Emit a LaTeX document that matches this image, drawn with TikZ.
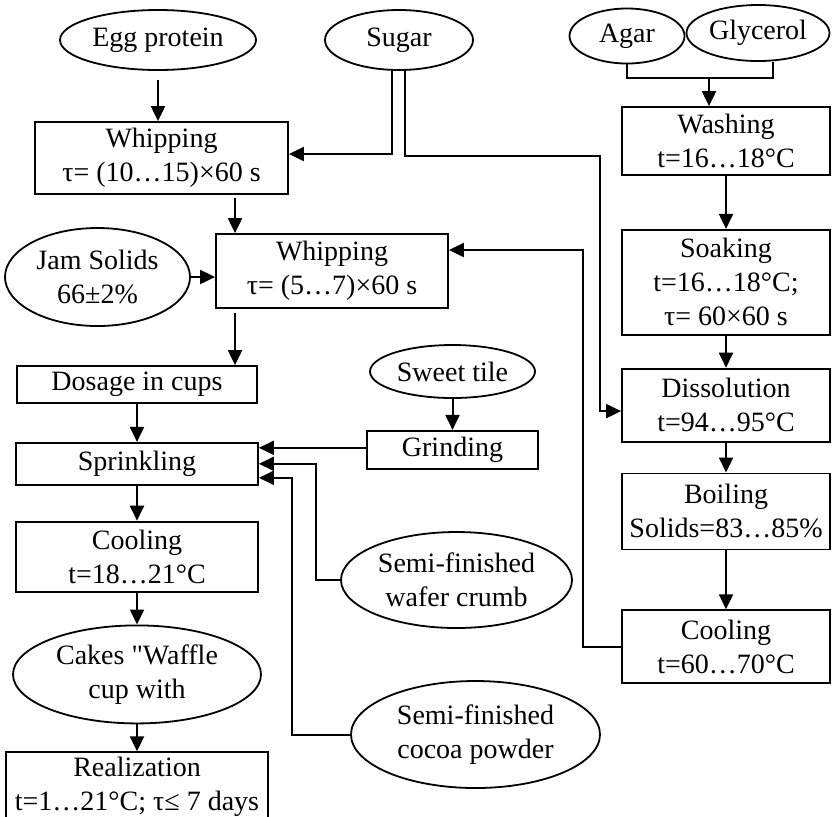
\documentclass[tikz,border=0pt]{standalone}
\usepackage{fontspec}
\setmainfont{Liberation Serif}[Ligatures=TeXOff]
\usetikzlibrary{positioning, arrows.meta, shapes.geometric}

\begin{document}
\begin{tikzpicture}[
    x=0.5pt, y=-0.5pt,
    font=\fontsize{14}{17}\selectfont,
    box/.style={draw, rectangle, line width=0.9pt, align=center, inner sep=2pt},
    oval/.style={draw, ellipse, line width=0.9pt, align=center, inner sep=0pt},
    arr/.style={-{Triangle[length=7.5pt,width=7pt]}, line width=1pt},
    link/.style={line width=1pt}
]
    \useasboundingbox (0,0) rectangle (833,816);

    \node[oval, minimum width=98pt, minimum height=30pt] (egg) at (158,40) {Egg protein};
    \node[oval, minimum width=74pt, minimum height=30pt] (sugar) at (399,40) {Sugar};
    \node[oval, minimum width=57.5pt, minimum height=27.5pt] (agar) at (627,36) {Agar};
    \node[oval, minimum width=71.5pt, minimum height=28pt] (glyc) at (758,33) {Glycerol};

    \node[box, minimum width=104pt, minimum height=34pt] (wash) at (726,141) {Washing\\ t=16…18°C};
    \node[box, minimum width=104pt, minimum height=52.5pt] (soak) [below=26.5pt of wash] {Soaking\\ t=16…18°C;\\ τ= 60×60 s};
    \node[box, minimum width=104pt, minimum height=36.5pt] (diss) [below=16pt of soak] {Dissolution\\ t=94…95°C};
    \node[box, minimum width=104pt, minimum height=38pt] (boil) [below=15pt of diss] {Boiling\\ Solids=83…85\%};
    \node[box, minimum width=104pt, minimum height=36.5pt] (cool2) [below=29.5pt of boil] {Cooling\\ t=60…70°C};

    \node[box, minimum width=126.5pt, minimum height=36pt] (whip1) at (161.5,158) {Whipping\\ τ= (10…15)×60 s};
    \node[box, minimum width=116pt, minimum height=37pt] (whip2) at (332,271) {Whipping\\ τ= (5…7)×60 s};
    \node[oval, minimum width=92.5pt, minimum height=49pt] (jam) at (97.5,277) {Jam Solids\\ 66±2\%};

    \node[box, minimum width=120pt, minimum height=18.5pt] (dosage) at (137,384.5) {Dosage in cups};
    \node[box, minimum width=121pt, minimum height=21pt] (sprink) [below=19pt of dosage] {Sprinkling};
    \node[box, minimum width=121pt, minimum height=35pt] (cool1) [below=17.5pt of sprink] {Cooling\\ t=18…21°C};
    \node[oval, minimum width=124pt, minimum height=49pt] (cakes) [below=16pt of cool1] {Cakes "Waffle\\ cup with};
    \node[box, minimum width=131pt, minimum height=35pt] (real) [below=13.5pt of cakes] {Realization\\ t=1…21°C; τ≤ 7 days};

    \node[oval, minimum width=82.5pt, minimum height=26.5pt] (sweet) at (452.5,371.5) {Sweet tile};
    \node[box, minimum width=85.5pt, minimum height=19pt] (grind) [below=15.5pt of sweet] {Grinding};
    \node[oval, minimum width=115.5pt, minimum height=48pt] (wafer) at (456.5,580) {Semi-finished\\ wafer crumb};
    \node[oval, minimum width=124.5pt, minimum height=53.5pt] (cocoa) at (475.5,734.5) {Semi-finished\\ cocoa powder};

    \coordinate (sugarbend) at (600,156);
    \coordinate (merge) at (709,78);

    \draw[arr, shorten <=4.5pt] (egg.south) -- (egg.south |- whip1.north);
    \draw[arr] ([xshift=-3.5pt]sugar.south) |- ([yshift=2pt]whip1.east);
    \draw[arr] ([xshift=3pt]sugar.south) |- (sugarbend) |- ([yshift=-3pt]diss.west);
    \draw[link] (agar.south) |- (merge) -| ([xshift=7.5pt]glyc.south);
    \draw[arr] (merge) -- (merge |- wash.north);
    \draw[arr] (wash) -- (soak);
    \draw[arr] (soak) -- (diss);
    \draw[arr] (diss) -- (boil);
    \draw[arr] (boil) -- (cool2);
    \draw[arr] (cool2.west) -- ++(-38,0) |- ([yshift=10.5pt]whip2.east);

    \draw[arr, shorten <=1.5pt] ([xshift=36.75pt]whip1.south) -- ([xshift=36.75pt]whip1.south |- whip2.north);
    \draw[arr] (jam.east) -- (jam.east -| whip2.west);
    \draw[arr, shorten <=2pt] ([xshift=-48.5pt]whip2.south) -- ([xshift=-48.5pt]whip2.south |- dosage.north);
    \draw[arr] (dosage) -- (sprink);
    \draw[arr] (sprink) -- (cool1);
    \draw[arr] (cool1) -- (cakes);
    \draw[arr] (cakes) -- (real);

    \draw[arr] (sweet) -- (grind);
    \draw[arr] ([yshift=1pt]grind.west) -- ([yshift=1pt]grind.west -| sprink.east);
    \draw[arr] (wafer.west) -- ++(-24,0) |- (sprink.east);
    \draw[arr] (cocoa.west) -- ++(-58,0) |- ([yshift=-7pt]sprink.east);
\end{tikzpicture}
\end{document}
